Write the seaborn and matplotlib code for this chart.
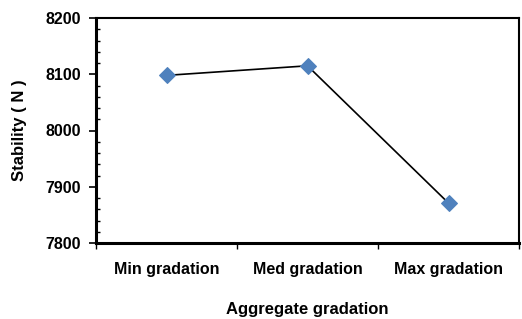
import matplotlib
matplotlib.use("Agg")
import matplotlib.pyplot as plt
import seaborn as sns
import pandas as pd
from matplotlib.ticker import MultipleLocator, FixedLocator

categories = ["Min gradation", "Med gradation", "Max gradation"]
stability = [8098, 8115, 7871]

sns.set_style("white")
plt.rcParams['font.family'] = ['Liberation Sans', 'DejaVu Sans']

df = pd.DataFrame({"pos": range(len(categories)), "val": stability})

fig = plt.figure(figsize=(5.22, 3.19), dpi=100)
ax = fig.add_axes([96/522, 1-243/319, (519-96)/522, (243-18)/319])

sns.lineplot(data=df, x="pos", y="val", ax=ax, color="black", linewidth=1.2,
             marker="D", markersize=8, markerfacecolor="#4F81BD",
             markeredgecolor="#4F81BD", zorder=3)

ax.set_xlim(-0.5, 2.5)
ax.set_ylim(7800, 8200)
ax.yaxis.set_major_locator(MultipleLocator(100))
ax.yaxis.set_minor_locator(MultipleLocator(20))
ax.xaxis.set_major_locator(FixedLocator([-0.5, 0.5, 1.5, 2.5]))
ax.set_xticklabels([])
ax.xaxis.set_minor_locator(FixedLocator([0, 1, 2]))
ax.set_xticklabels(categories, minor=True)
ax.tick_params(axis="x", which="minor", length=0, pad=14, labelsize=11.5, colors="black")
ax.tick_params(axis="x", which="major", length=4, width=1, direction="out", bottom=True, colors="black")
ax.tick_params(axis="y", which="major", length=5, width=1.2, direction="out", left=True,
               labelsize=11.5, pad=6, colors="black")
ax.tick_params(axis="y", which="minor", length=3, width=1, direction="in", left=True, colors="black")
for lab in ax.get_yticklabels() + ax.get_xticklabels(minor=True):
    lab.set_fontweight("bold")

for s in ["left", "bottom"]:
    ax.spines[s].set_linewidth(2.2)
for s in ["top", "right"]:
    ax.spines[s].set_linewidth(1.5)
for s in ax.spines.values():
    s.set_color("black")

ax.set_xlabel("Aggregate gradation", fontsize=12, fontweight="bold", labelpad=18, color="black")
ax.set_ylabel("Stability ( N )", fontsize=12, fontweight="bold", labelpad=13, color="black")

fig.savefig("out.png", dpi=100)
